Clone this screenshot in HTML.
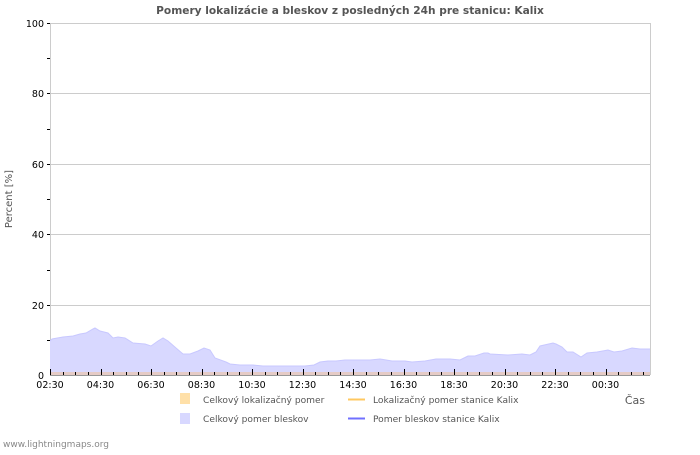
<!DOCTYPE html>
<html><head><meta charset="utf-8"><style>
html,body{margin:0;padding:0;background:#fff;}
svg text{font-family:"DejaVu Sans","Liberation Sans",sans-serif;}
</style></head><body>
<svg width="700" height="450" xmlns="http://www.w3.org/2000/svg">
<rect width="700" height="450" fill="#fff"/>
<text x="350" y="14" font-size="10.6" font-weight="bold" fill="#555" text-anchor="middle">Pomery lokalizácie a bleskov z posledných 24h pre stanicu: Kalix</text>
<g stroke="#ccc" stroke-width="1">
<line x1="50" y1="23.5" x2="650" y2="23.5"/>
<line x1="50" y1="93.5" x2="650" y2="93.5"/>
<line x1="50" y1="164.5" x2="650" y2="164.5"/>
<line x1="50" y1="234.5" x2="650" y2="234.5"/>
<line x1="50" y1="305.5" x2="650" y2="305.5"/>
<line x1="650.5" y1="23" x2="650.5" y2="375"/>
<line x1="50.5" y1="23" x2="50.5" y2="375"/>
</g>
<polygon fill="#d8d8ff" points="50,375 50,341 52,339 63,337 73,336 80,334 86,333 93,329 95,328 100,331 108,333 113,338 118,337 125,338 133,343 145,344 151,346 158,341 163,338 168,341 176,348 183,354 190,354 198,351 204,348 210,350 215,358 226,362 230,364 240,365 253,365 263,366 275,366 290,366 305,366 314,365 320,362 328,361 336,361 345,360 356,360 370,360 380,359 392,361 405,361 412,362 425,361 436,359 450,359 460,360 468,356 475,356 484,353 488,353 490,354 508,355 522,354 530,355 536,352 540,346 553,343 556,344 562,347 567,352 573,352 581,357 587,353 597,352 608,350 614,352 622,351 632,348 640,349 650,349 650,375"/>
<polyline fill="none" stroke="#c8c8ff" stroke-width="1" points="50,341 52,339 63,337 73,336 80,334 86,333 93,329 95,328 100,331 108,333 113,338 118,337 125,338 133,343 145,344 151,346 158,341 163,338 168,341 176,348 183,354 190,354 198,351 204,348 210,350 215,358 226,362 230,364 240,365 253,365 263,366 275,366 290,366 305,366 314,365 320,362 328,361 336,361 345,360 356,360 370,360 380,359 392,361 405,361 412,362 425,361 436,359 450,359 460,360 468,356 475,356 484,353 488,353 490,354 508,355 522,354 530,355 536,352 540,346 553,343 556,344 562,347 567,352 573,352 581,357 587,353 597,352 608,350 614,352 622,351 632,348 640,349 650,349"/>
<rect x="50" y="372" width="600" height="3" fill="#e8c8b8" opacity="0.8"/>
<line x1="50" y1="375.5" x2="650" y2="375.5" stroke="#999"/>
<g font-size="9.5" fill="#000" text-anchor="end">
<text x="44" y="27">100</text><text x="44" y="97">80</text><text x="44" y="168">60</text><text x="44" y="238">40</text><text x="44" y="309">20</text><text x="44" y="379">0</text>
</g>
<g stroke="#000">
<line x1="47" y1="23.5" x2="50" y2="23.5"/><line x1="47" y1="58.5" x2="50" y2="58.5"/><line x1="47" y1="93.5" x2="50" y2="93.5"/><line x1="47" y1="129.5" x2="50" y2="129.5"/><line x1="47" y1="164.5" x2="50" y2="164.5"/><line x1="47" y1="199.5" x2="50" y2="199.5"/><line x1="47" y1="234.5" x2="50" y2="234.5"/><line x1="47" y1="270.5" x2="50" y2="270.5"/><line x1="47" y1="305.5" x2="50" y2="305.5"/><line x1="47" y1="340.5" x2="50" y2="340.5"/>
</g>
<g id="ticks" stroke="#000"></g>
<g font-size="9.5" fill="#000" text-anchor="middle">
<text x="50" y="388">02:30</text><text x="100.5" y="388">04:30</text><text x="151" y="388">06:30</text><text x="201.5" y="388">08:30</text><text x="252" y="388">10:30</text><text x="302.5" y="388">12:30</text><text x="353" y="388">14:30</text><text x="403.5" y="388">16:30</text><text x="454" y="388">18:30</text><text x="504.5" y="388">20:30</text><text x="555" y="388">22:30</text><text x="605.5" y="388">00:30</text>
</g>
<text x="12" y="199" font-size="10" fill="#555" text-anchor="middle" transform="rotate(-90 12 199)">Percent   [%]</text>
<text x="645" y="404" font-size="11" fill="#555" text-anchor="end">Čas</text>
<rect x="180" y="393" width="10" height="11" fill="#ffe0a8"/>
<text x="203" y="403" font-size="9.1" fill="#555">Celkový lokalizačný pomer</text>
<rect x="180" y="413" width="10" height="11" fill="#d8d8ff"/>
<text x="203" y="422" font-size="9.1" fill="#555">Celkový pomer bleskov</text>
<line x1="348" y1="399.5" x2="365" y2="399.5" stroke="#ffc860" stroke-width="2"/>
<text x="373" y="403" font-size="9.1" fill="#555">Lokalizačný pomer stanice Kalix</text>
<line x1="348" y1="418.5" x2="365" y2="418.5" stroke="#7070ff" stroke-width="2"/>
<text x="373" y="422" font-size="9.1" fill="#555">Pomer bleskov stanice Kalix</text>
<text x="3" y="447" font-size="9" fill="#888">www.lightningmaps.org</text>
</svg>
<script>
var g=document.getElementById('ticks');
for(var i=0;i<48;i++){var x=50+i*12.625;var l=document.createElementNS('http://www.w3.org/2000/svg','line');
var xx=Math.round(x)+0.5;l.setAttribute('x1',xx);l.setAttribute('x2',xx);l.setAttribute('y1',i%4==0?369:372);l.setAttribute('y2',375);g.appendChild(l);}
</script>
</body></html>
